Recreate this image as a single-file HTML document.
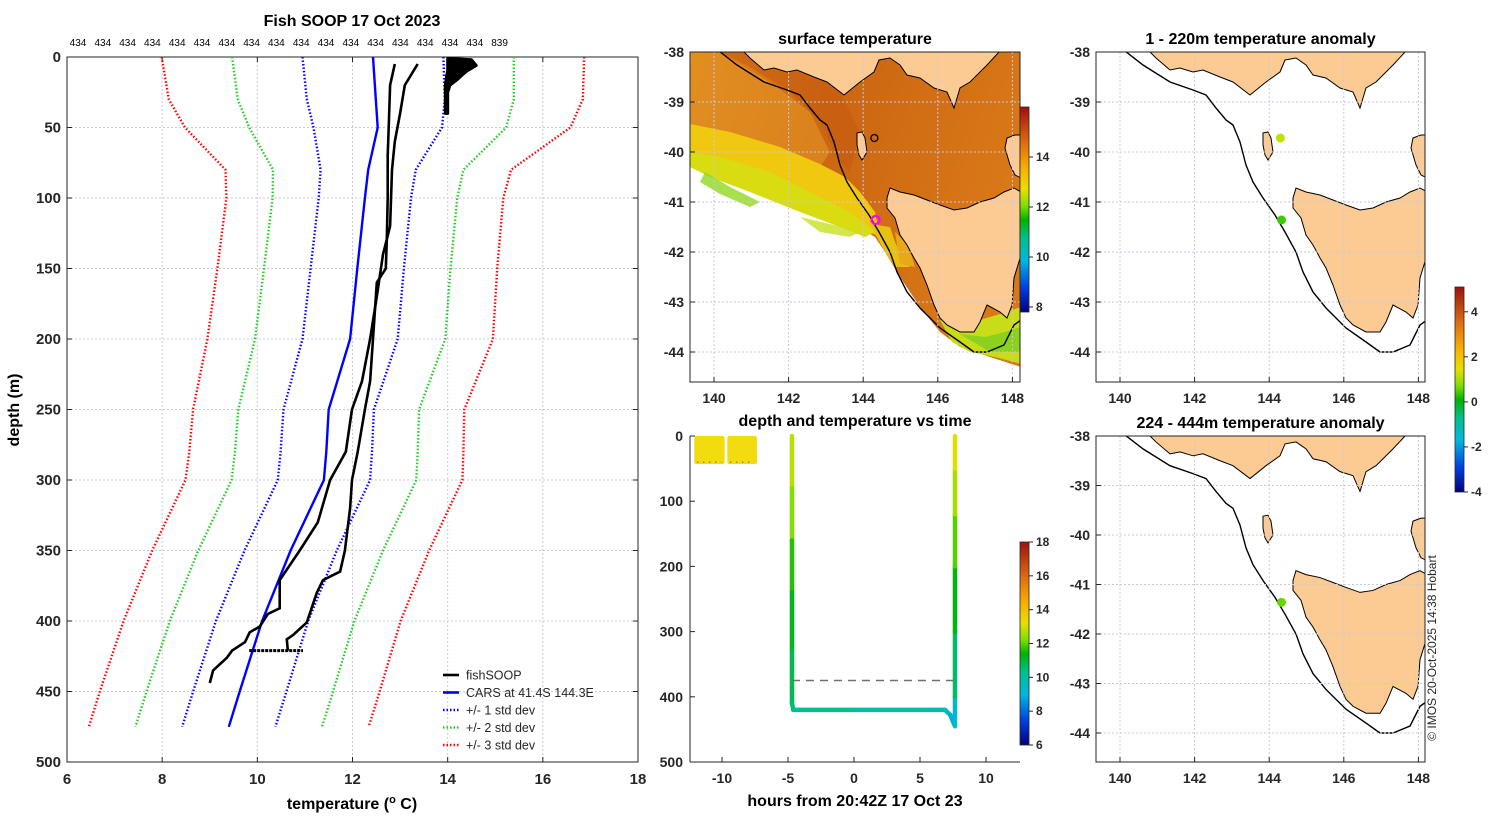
<!DOCTYPE html>
<html><head><meta charset="utf-8">
<style>
html,body{margin:0;padding:0;background:#fff;}
svg{display:block;font-family:"Liberation Sans","DejaVu Sans",sans-serif;}
.tk{font-size:15px;font-weight:bold;fill:#262626;}
.mt{font-size:14px;font-weight:bold;fill:#262626;}
.cb{font-size:12px;font-weight:bold;fill:#262626;}
.ttl{font-size:16px;font-weight:bold;fill:#000;}
.grid{stroke:#c9c9dc;stroke-width:1;stroke-dasharray:2,2;}
</style></head>
<body>
<svg id="fig" width="1500" height="820" viewBox="0 0 1500 820" xmlns="http://www.w3.org/2000/svg">
<defs>
<linearGradient id="jet" x1="0" y1="1" x2="0" y2="0">
<stop offset="0" stop-color="#00007f"/><stop offset="0.12" stop-color="#0040e0"/><stop offset="0.25" stop-color="#00b8e0"/><stop offset="0.36" stop-color="#00c090"/><stop offset="0.45" stop-color="#00b400"/><stop offset="0.52" stop-color="#80e000"/><stop offset="0.6" stop-color="#e8e000"/><stop offset="0.7" stop-color="#f8b000"/><stop offset="0.82" stop-color="#e07010"/><stop offset="1" stop-color="#a01010"/>
</linearGradient>
<linearGradient id="sstbg" x1="0" y1="0" x2="1" y2="0.3">
<stop offset="0" stop-color="#e0861c"/><stop offset="0.45" stop-color="#cc6612"/><stop offset="1" stop-color="#d97818"/>
</linearGradient>
<clipPath id="c1"><rect x="690" y="52" width="330" height="330"/></clipPath>
<clipPath id="c2"><rect x="1096" y="52" width="329" height="330"/></clipPath>
<clipPath id="c3"><rect x="1096" y="436" width="329" height="326"/></clipPath>
</defs>
<g id="root"></g>
</svg>
<script>
// ---------- PROFILE DATA ----------
const tempTicks=[6,8,10,12,14,16,18];
const depthTicks=[0,50,100,150,200,250,300,350,400,450,500];
const carsDepth=[0,30,50,80,100,150,200,250,280,300,350,400,450,475];
const carsMean=[12.43,12.49,12.53,12.33,12.26,12.1,11.95,11.5,11.45,11.4,10.7,10.1,9.63,9.4];
const carsStd=[1.48,1.45,1.35,1.0,0.97,0.98,1.0,0.95,0.96,0.97,0.97,0.97,0.98,0.98];
const downDepth=[5,20,40,60,80,120,140,170,200,230,250,280,300,330,350,371,391,395,404,408,415,421,426,435,444];
const downTemp=[13.37,13.10,13.00,12.89,12.83,12.79,12.64,12.51,12.37,12.20,11.99,11.86,11.53,11.27,10.89,10.47,10.47,10.22,10.05,9.84,9.74,9.47,9.36,9.07,9.00];
const upDepth=[5,20,50,70,100,130,150,160,180,200,230,250,280,300,320,350,365,371,380,401,410,413,421];
const upTemp=[12.89,12.79,12.76,12.74,12.74,12.72,12.70,12.51,12.47,12.43,12.37,12.26,12.11,11.99,11.95,11.84,11.74,11.38,11.25,11.04,10.75,10.62,10.64];
const bottomTemps=[9.83,10.96];
const bottomDepth=421;
const surfDepth=[1,2,4,6,8,10,13,16,20,25,30,35,40,40,35,30,25,20,16,13,10,7,4,2,1];
const surfTemp=[14.0,14.5,14.55,14.6,14.5,14.4,14.3,14.2,14.05,14.0,14.0,14.0,14.0,13.95,13.95,13.95,13.95,13.95,13.97,13.98,14.0,14.0,14.0,14.0,14.0];
const countLabels=["434","434","434","434","434","434","434","434","434","434","434","434","434","434","434","434","434","839"];
// ---------- TIME SERIES DATA ----------
const hourTicks=[-10,-5,0,5,10];
const tsDepthTicks=[0,100,200,300,400,500];
const blockStart=[-12.1,-9.6];
const blockEnd=[-9.8,-7.35];
const blockDepth=[0,43];
const pathHours=[-4.7,-4.7,-4.7,-4.7,-4.7,-4.7,-4.6,0,5,6.9,7.3,7.65,7.65,7.65,7.65,7.65,7.65,7.65];
const pathDepth=[0,80,160,240,330,410,420,420,420,420,428,445,400,300,200,120,50,0];
const pathTemp=[12.9,12.6,11.9,11.4,11.0,10.6,10.5,10.2,9.9,9.8,9.2,8.4,10.3,11.0,11.6,12.3,12.9,13.3];
const dashDepth=375;
// ---------- MAP DATA ----------
const sstTicks=[8,10,12,14];
const anomTicks=[-4,-2,0,2,4];
const tsCbTicks=[6,8,10,12,14,16,18];
const lonTicks=[140,142,144,146,148];
const latTicks=[-38,-39,-40,-41,-42,-43,-44];
const stnLon=[144.3,144.33];
const stnLat=[-39.72,-41.36];
const stnAnomTop=[1.2,0.4];

const NS="http://www.w3.org/2000/svg";
const root=document.getElementById('root');
function el(tag,attrs,parent,txt){const e=document.createElementNS(NS,tag);for(const k in attrs)e.setAttribute(k,attrs[k]);if(txt!==undefined)e.textContent=txt;(parent||root).appendChild(e);return e;}

function jet(t){
  const st=[[0,[0,0,127]],[0.12,[0,64,224]],[0.25,[0,184,224]],[0.36,[0,192,144]],[0.45,[0,180,0]],[0.52,[128,224,0]],[0.6,[232,224,0]],[0.7,[248,176,0]],[0.82,[224,112,16]],[1,[160,16,16]]];
  t=Math.max(0,Math.min(1,t));
  for(let i=1;i<st.length;i++){if(t<=st[i][0]){const a=st[i-1],b=st[i];const f=(t-a[0])/(b[0]-a[0]);const c=a[1].map((v,j)=>Math.round(v+(b[1][j]-v)*f));return `rgb(${c})`;}}
  return 'rgb(160,16,16)';
}

// ===== PROFILE PANEL =====
const P={x0:67,x1:638,y0:57,y1:762};
const px=t=>P.x0+(t-6)/(18-6)*(P.x1-P.x0);
const py=d=>P.y0+d/500*(P.y1-P.y0);
const gp=el('g',{});


tempTicks.forEach(t=>{el('line',{x1:px(t),x2:px(t),y1:P.y0,y2:P.y1,class:'grid'},gp);});
depthTicks.forEach(d=>{el('line',{x1:P.x0,x2:P.x1,y1:py(d),y2:py(d),class:'grid'},gp);});
el('rect',{x:P.x0,y:P.y0,width:P.x1-P.x0,height:P.y1-P.y0,fill:'none',stroke:'#262626','stroke-width':1},gp);
tempTicks.forEach(t=>{
  el('line',{x1:px(t),x2:px(t),y1:P.y1,y2:P.y1-5,stroke:'#262626'},gp);
  el('line',{x1:px(t),x2:px(t),y1:P.y0,y2:P.y0+5,stroke:'#262626'},gp);
  const tx=el('text',{x:px(t),y:P.y1+22,'text-anchor':'middle',class:'tk'},gp,String(t));
  
});
depthTicks.forEach(d=>{
  el('line',{x1:P.x0,x2:P.x0+5,y1:py(d),y2:py(d),stroke:'#262626'},gp);
  el('line',{x1:P.x1,x2:P.x1-5,y1:py(d),y2:py(d),stroke:'#262626'},gp);
  const tx=el('text',{x:P.x0-6,y:py(d)+5,'text-anchor':'end',class:'tk'},gp,String(d));
  
});
countLabels.forEach((s,i)=>{
  const tx=el('text',{x:78+i*24.8,y:46,'text-anchor':'middle','font-size':'10',fill:'#000'},gp,s);
  
});
function poly(xs,ys,attrs,parent,name){
  const pts=xs.map((x,i)=>x.toFixed(1)+','+ys[i].toFixed(1)).join(' ');
  const p=el('polyline',Object.assign({points:pts,fill:'none'},attrs),parent);
  return p;
}
const sdCol=['#0000ff','#22cc22','#ff0000'];
[1,2,3].forEach(k=>{
  [-1,1].forEach(s=>{
    poly(carsMean.map((m,i)=>px(m+s*k*carsStd[i])),carsDepth.map(py),{stroke:sdCol[k-1],'stroke-width':2.4,'stroke-dasharray':'1.5,2'},gp,'std-dev-'+k+(s<0?'-low':'-high'));
  });
});
poly(carsMean.map(px),carsDepth.map(py),{stroke:'#0000ff','stroke-width':2.4},gp,'cars-mean-line');
poly(downTemp.map(px),downDepth.map(py),{stroke:'#000','stroke-width':2.6},gp,'fishsoop-line-a');
poly(upTemp.map(px),upDepth.map(py),{stroke:'#000','stroke-width':2.6},gp,'fishsoop-line-b');
poly(bottomTemps.map(px),[bottomDepth,bottomDepth].map(py),{stroke:'#000','stroke-width':3,'stroke-dasharray':'3,1'},gp,'fishsoop-bottom');
{const pts=surfTemp.map((v,i)=>px(v).toFixed(1)+','+py(surfDepth[i]).toFixed(1)).join(' ');
const sb=el('polygon',{points:pts,fill:'#000',stroke:'#000','stroke-width':3,'stroke-linejoin':'round'},gp);
}
const lg=el('g',{},gp);
const legItems=[['fishSOOP','#000',''],['CARS at 41.4S 144.3E','#0000ff',''],['+/- 1 std dev','#0000ff','1.5,2'],['+/- 2 std dev','#22cc22','1.5,2'],['+/- 3 std dev','#ff0000','1.5,2']];
legItems.forEach((it,i)=>{
  const y=675+i*17.5;
  const g=el('g',{},lg);
  el('line',{x1:443,x2:459,y1:y,y2:y,stroke:it[1],'stroke-width':2.6,'stroke-dasharray':it[2]||'none'},g);
  el('text',{x:466,y:y+4.5,'font-size':'12.5',fill:'#262626'},g,it[0]);
});
let t=el('text',{x:352,y:26,'text-anchor':'middle',class:'ttl'},gp,'Fish SOOP 17 Oct 2023');
t=el('text',{x:352,y:809,'text-anchor':'middle',class:'ttl'},gp);
t.innerHTML='temperature (<tspan dy="-6" font-size="11">o</tspan><tspan dy="6"> C)</tspan>';
t=el('text',{x:19,y:410,'text-anchor':'middle',class:'ttl',transform:'rotate(-90 19 410)'},gp,'depth (m)');

// ===== MAP SHAPES =====
const mainland=[[53,-1],[60,6],[74,18],[84,16],[97,20],[107,18],[124,25],[137,30],[154,43],[170,30],[184,20],[189,8],[200,6],[210,13],[217,23],[230,26],[244,36],[257,40],[264,56],[270,36],[280,30],[297,13],[310,-1]];
const tas=[[197,146],[200,136],[210,140],[224,143],[237,148],[250,153],[264,158],[277,156],[290,150],[304,146],[314,140],[324,136],[331,140],[331,203],[324,226],[322,253],[317,266],[310,260],[297,253],[290,270],[284,280],[270,280],[257,273],[250,266],[244,253],[237,233],[230,216],[224,206],[217,193],[210,183],[205,166],[197,156]];
const king=[[167,81],[172,80],[175,86],[177,100],[172,108],[169,103],[167,93]];
const flinders=[[317,86],[325,83],[331,83],[331,126],[325,123],[320,113],[315,96]];
const shelf=[[29,-1],[47,13],[74,30],[97,38],[110,43],[120,56],[130,68],[137,73],[144,90],[150,113],[157,130],[167,146],[179,163],[189,180],[200,200],[207,220],[217,240],[230,256],[250,276],[270,290],[284,300],[297,300],[314,293],[324,273],[331,268]];
const ptsStr=a=>a.map(p=>p[0]+','+p[1]).join(' ');

function mapFrame(ox,oy,w,h,latScale,title,clip,name){
  const g=el('g',{});
  const X=lon=>ox+24+(lon-140)*37.3;
  const Y=lat=>oy+(-38-lat)*latScale;
  const inner=el('g',{'clip-path':'url(#'+clip+')'},g);
  return {g,inner,X,Y,ox,oy,w,h,latScale,title};
}
function mapFinish(m){
  const {g,inner,X,Y,ox,oy,w,h}=m;
  const sg=el('g',{transform:`translate(${ox},${oy}) scale(1,${m.latScale/50})`},inner);
  ['mainland','tas','king','flinders'].forEach((k,i)=>{
    const p=el('polygon',{points:ptsStr([mainland,tas,king,flinders][i]),fill:'#fccb94',stroke:'#000','stroke-width':1},sg);
    
  });
  const sh=el('polyline',{points:ptsStr(shelf),fill:'none',stroke:'#000','stroke-width':1.4},sg);
  
  lonTicks.forEach(lon=>{el('line',{x1:X(lon),x2:X(lon),y1:oy,y2:oy+h,class:'grid'},inner);});
  latTicks.forEach(lat=>{el('line',{x1:ox,x2:ox+w,y1:Y(lat),y2:Y(lat),class:'grid'},inner);});
  el('rect',{x:ox,y:oy,width:w,height:h,fill:'none',stroke:'#262626'},g);
  lonTicks.forEach(lon=>{
    el('line',{x1:X(lon),x2:X(lon),y1:oy+h,y2:oy+h-5,stroke:'#262626'},g);
    const tx=el('text',{x:X(lon),y:oy+h+21,'text-anchor':'middle',class:'mt'},g,String(lon));
    
  });
  latTicks.forEach(lat=>{
    el('line',{x1:ox,x2:ox+5,y1:Y(lat),y2:Y(lat),stroke:'#262626'},g);
    const tx=el('text',{x:ox-6,y:Y(lat)+5,'text-anchor':'end',class:'mt'},g,String(lat));
    
  });
  const tt=el('text',{x:ox+w/2,y:oy-8,'text-anchor':'middle',class:'ttl'},g,m.title);
  
}
function colorbar(x,y0,y1,vmin,vmax,ticks,name){
  const g=el('g',{});
  el('rect',{x:x,y:y0,width:9,height:y1-y0,fill:'url(#jet)',stroke:'#262626','stroke-width':0.8},g);
  ticks.forEach(v=>{const y=y1-(v-vmin)/(vmax-vmin)*(y1-y0);
    el('line',{x1:x+9,x2:x+13,y1:y,y2:y,stroke:'#262626'},g);
    el('text',{x:x+16,y:y+4,class:'cb'},g,String(v));});
}

// --- Map 1: SST ---
const m1=mapFrame(690,52,330,330,50,'surface temperature','c1','sst-map');
const sl=el('g',{transform:'translate(690,52)'},m1.inner);


// orange area (north/east of the cold-water boundary)
el('polygon',{points:'0,0 331,0 331,315 300,305 270,295 250,280 230,255 210,225 195,200 185,185 160,170 120,155 90,140 40,110 0,103',fill:'url(#sstbg)'},sl);
// darker band along shelf edge
el('polygon',{points:'30,0 100,0 150,40 170,80 160,120 150,110 130,70 100,40 60,15',fill:'#c45a10',opacity:0.55},sl);
// lighter western area
el('polygon',{points:'0,0 30,0 80,30 120,60 140,100 130,115 90,100 40,80 0,75',fill:'#e29424',opacity:0.6},sl);
// yellow band
el('polygon',{points:'0,72 40,80 90,95 130,112 155,125 170,140 185,160 190,185 175,178 150,168 110,150 70,128 30,108 0,100',fill:'#f0c810'},sl);
el('polygon',{points:'0,100 30,105 80,120 120,140 160,160 185,180 175,185 150,175 110,160 60,140 20,125 0,115',fill:'#d8dc10'},sl);
// yellow along Tas west coast between shelf and coast
el('polygon',{points:'180,172 200,175 205,190 212,205 220,215 205,215 195,200',fill:'#e8c010'},sl);
el('polygon',{points:'205,180 215,190 222,205 225,215 210,212',fill:'#e8a818'},sl);
// SE yellow-green
el('polygon',{points:'250,268 270,272 290,268 310,262 331,255 331,312 305,305 280,300 262,290',fill:'#c8dc18'},sl);
el('polygon',{points:'270,282 295,285 315,280 331,275 331,300 300,300',fill:'#70cc20',opacity:0.7},sl);
// scattered cold-water pixels
el('polygon',{points:'15,120 40,135 70,150 60,155 30,142 10,130',fill:'#90d820',opacity:0.8},sl);
el('polygon',{points:'110,165 140,172 170,180 160,185 130,180',fill:'#c8e020',opacity:0.8},sl);
mapFinish(m1);
const mk=el('circle',{cx:m1.X(stnLon[1]),cy:m1.Y(stnLat[1]),r:4,fill:'none',stroke:'#ff00ff','stroke-width':2.2},m1.g);

const mk2=el('circle',{cx:m1.X(stnLon[0]),cy:m1.Y(stnLat[0]),r:3.5,fill:'none',stroke:'#000','stroke-width':1.3},m1.g);

colorbar(1020,107,312,7.8,16.0,sstTicks,'sst-colorbar');

// --- Map 2 ---
const m2=mapFrame(1096,52,329,330,50,'1 - 220m temperature anomaly','c2','anomaly-map-shallow');
mapFinish(m2);
stnLon.forEach((lon,i)=>{const c=el('circle',{cx:m2.X(lon),cy:m2.Y(stnLat[i]),r:4.5,fill:jet((stnAnomTop[i]+4)/9.1)},m2.g);
  });
colorbar(1455,287,492,-4,5.1,anomTicks,'anomaly-colorbar');

// --- Map 3 ---
const m3=mapFrame(1096,436,329,326,49.5,'224 - 444m temperature anomaly','c3','anomaly-map-deep');
mapFinish(m3);
{const c=el('circle',{cx:m3.X(stnLon[1]),cy:m3.Y(stnLat[1]),r:4.5,fill:jet((0.6+4)/9.1)},m3.g);
}

// ===== TIME SERIES PANEL =====
const T={x0:690,x1:1020,y0:436,y1:762};
const hx=h=>854+h*13.2;
const dy=d=>T.y0+d/500*(T.y1-T.y0);
const gt=el('g',{});
const tc=v=>jet((v-6)/12);
blockStart.forEach((s,i)=>{const r=el('rect',{x:hx(s),y:dy(blockDepth[0]),width:hx(blockEnd[i])-hx(s),height:dy(blockDepth[1])-dy(blockDepth[0]),fill:'#f2dc10',rx:2},gt);
  
  el('line',{x1:hx(s)+3,x2:hx(blockEnd[i])-3,y1:dy(40),y2:dy(40),stroke:'#333','stroke-width':1,'stroke-dasharray':'1,5'},gt);});
for(let i=0;i<pathHours.length-1;i++){
  const seg=el('line',{x1:hx(pathHours[i]),y1:dy(pathDepth[i]),x2:hx(pathHours[i+1]),y2:dy(pathDepth[i+1]),stroke:tc((pathTemp[i]+pathTemp[i+1])/2),'stroke-width':4.5,'stroke-linecap':'round'},gt);
  
}
{const dl=el('line',{x1:hx(pathHours[0]),x2:hx(7.65),y1:dy(dashDepth),y2:dy(dashDepth),stroke:'#707070','stroke-width':1.5,'stroke-dasharray':'8,6'},gt);
}
el('line',{x1:T.x0,x2:T.x0,y1:T.y0,y2:T.y1,stroke:'#262626'},gt);
el('line',{x1:T.x0,x2:T.x1,y1:T.y1,y2:T.y1,stroke:'#262626'},gt);
hourTicks.forEach(h=>{el('line',{x1:hx(h),x2:hx(h),y1:T.y1,y2:T.y1-5,stroke:'#262626'},gt);
  const tx=el('text',{x:hx(h),y:T.y1+21,'text-anchor':'middle',class:'mt'},gt,String(h));});
tsDepthTicks.forEach(d=>{el('line',{x1:T.x0,x2:T.x0+5,y1:dy(d),y2:dy(d),stroke:'#262626'},gt);
  const tx=el('text',{x:T.x0-7,y:dy(d)+5,'text-anchor':'end',class:'mt'},gt,String(d));});
t=el('text',{x:855,y:426,'text-anchor':'middle',class:'ttl'},gt,'depth and temperature vs time');
t=el('text',{x:855,y:806,'text-anchor':'middle',class:'ttl'},gt,'hours from 20:42Z 17 Oct 23');
colorbar(1020,542,745,6,18,tsCbTicks,'time-series-colorbar');

t=el('text',{x:1436,y:648,'text-anchor':'middle','font-size':'12',fill:'#262626',transform:'rotate(-90 1436 648)'},root,'© IMOS 20-Oct-2025 14:38 Hobart');

</script>
</body></html>
